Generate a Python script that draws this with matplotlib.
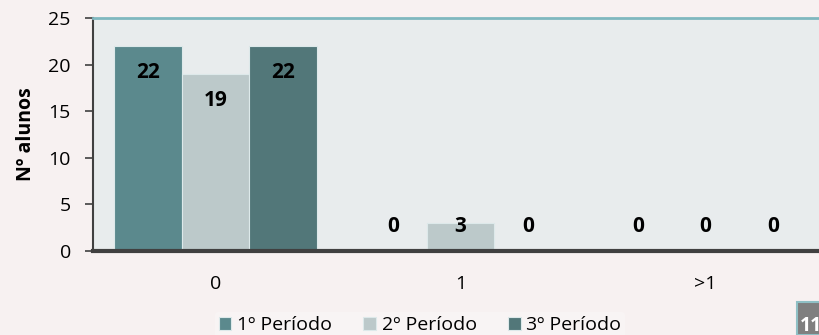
import matplotlib
matplotlib.use("Agg")
import matplotlib.pyplot as plt
import numpy as np
from matplotlib.patches import Rectangle

categories = ["0", "1", ">1"]
series_names = ["1º Período", "2º Período", "3º Período"]
p1 = [22, 0, 0]
p2 = [19, 3, 0]
p3 = [22, 0, 0]
colors = ["#5B898D", "#BCC9CA", "#527779"]
y_ticks = [0, 5, 10, 15, 20, 25]
y_label = "Nº alunos"
page_number = "11"

plt.rcParams['font.family'] = ['Open Sans', 'DejaVu Sans']

fig = plt.figure(figsize=(8.19, 3.35), dpi=100)
fig.patch.set_facecolor("#F7F1F1")
W, H = 819, 335
# plot area extends beyond the right edge (cropped)
left, right, top, bottom = 93, 828, 18, 251
ax = fig.add_axes([left / W, 1 - bottom / H, (right - left) / W, (bottom - top) / H])
ax.set_facecolor("#E8ECED")

FS = 14

x = np.arange(len(categories))
bw = 0.275
data = [p1, p2, p3]
for i, (vals, c) in enumerate(zip(data, colors)):
    pos = x + (i - 1) * bw
    ax.bar(pos, vals, width=bw, color=c, edgecolor="#DDE9EA", linewidth=0.8, zorder=2)
    for xp, v in zip(pos, vals):
        ly = v - 2.9 if v > 5 else 2.6
        ax.text(xp, ly, str(v), ha="center", va="center", fontsize=15,
                fontweight="bold", color="black", zorder=3)

ax.set_xlim(-0.5, len(categories) - 0.5)
ax.set_ylim(0, 25)
ax.set_yticks(y_ticks)
ax.set_xticks(x)
ax.set_xticklabels(categories)
ax.tick_params(axis="x", length=0, pad=17, labelsize=FS)
ax.tick_params(axis="y", length=6, width=1.2, color="#404040", labelsize=FS, pad=10)
ax.set_ylabel(y_label, fontsize=FS, fontweight="bold", labelpad=9)

ax.spines["right"].set_visible(False)
ax.spines["top"].set_color("#7FB8BF")
ax.spines["top"].set_linewidth(2)
ax.spines["left"].set_color("#404040")
ax.spines["left"].set_linewidth(1.5)
ax.spines["bottom"].set_color("#404040")
ax.spines["bottom"].set_linewidth(3)

# legend
handles = [Rectangle((0, 0), 1, 1, facecolor=c, edgecolor="#DDE9EA", linewidth=0.8) for c in colors]
leg = fig.legend(handles, series_names, loc="center", bbox_to_anchor=(420 / W, 1 - 325 / H),
                 ncol=3, frameon=True, fontsize=FS, handlelength=0.65, handleheight=0.65,
                 handletextpad=0.3, columnspacing=1.6, borderaxespad=0, borderpad=0.2)
leg.get_frame().set_facecolor("#F9F5F5")
leg.get_frame().set_edgecolor("none")

# page-number badge (cropped at the right edge as in the reference)
fig.patches.append(Rectangle((797 / W, 0), 40 / W, 33 / H, transform=fig.transFigure,
                             facecolor="#7F7F7F", edgecolor="#8FC0C5", linewidth=1.5, zorder=5))
fig.text(800 / W, 1 - 326 / H, page_number, color="white", fontsize=14, fontweight="bold",
         ha="left", va="center", zorder=6)

fig.savefig("out.png", dpi=100, facecolor=fig.get_facecolor())
